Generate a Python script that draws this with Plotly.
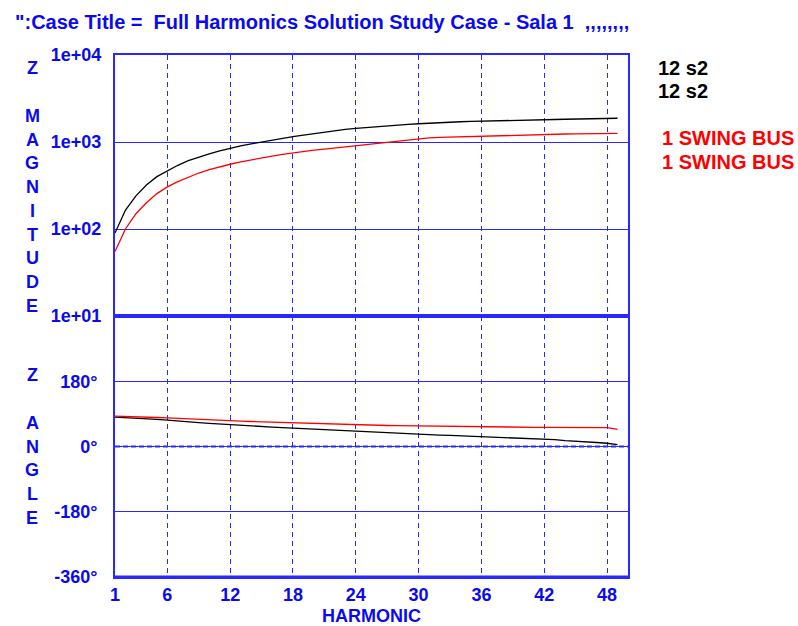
import plotly.graph_objects as go

# Harmonic orders analysed
harmonics = list(range(1, 50))

# Driving-point impedance magnitude (ohm) seen at each bus
mag_12s2 = [90, 165, 240, 320, 400, 470, 540, 610, 670, 730,
            790, 850, 900, 950, 1000, 1050, 1100, 1150, 1200, 1250,
            1300, 1350, 1395, 1435, 1470, 1505, 1540, 1570, 1595, 1620,
            1650, 1675, 1695, 1710, 1725, 1740, 1755, 1765, 1775, 1785,
            1795, 1805, 1815, 1825, 1835, 1845, 1855, 1865, 1875]
mag_swing = [55, 100, 150, 200, 255, 305, 350, 395, 440, 480,
             520, 555, 590, 625, 660, 690, 720, 750, 780, 805,
             830, 855, 880, 910, 945, 975, 1010, 1040, 1070, 1100,
             1115, 1130, 1140, 1150, 1160, 1170, 1180, 1190, 1200, 1205,
             1210, 1220, 1225, 1235, 1240, 1245, 1250, 1255, 1258]

# Impedance angle (degrees)
ang_12s2 = [81, 80, 78, 76, 75, 73, 70, 68, 66, 64,
            62, 60, 58.5, 57, 55, 53.5, 52, 50.5, 49, 47.5,
            46, 44.5, 43, 42, 40.5, 39, 38, 36.5, 35, 34,
            33, 31.5, 30.5, 29.5, 28.5, 27.5, 26.5, 25.5, 24.5, 23.5,
            22.5, 21, 19, 16, 15, 13, 11, 9, 5]
ang_swing = [84, 83.5, 83, 82, 80, 79, 77.5, 76, 74, 73,
             72, 71, 70, 69, 68, 67, 66, 65, 64, 63,
             62, 61, 60.5, 60, 59, 58.5, 58, 57.5, 57, 56.5,
             56, 55.5, 55, 55, 54.5, 54, 54, 53.5, 53.5, 53,
             53, 53, 52.5, 52.5, 52, 52, 52, 52, 47]

bus_names = ["12 s2", "1 SWING BUS"]
bus_colors = ["#000000", "#FF0000"]

x_ticks = [1, 6, 12, 18, 24, 30, 36, 42, 48]
mag_ticks = [10, 100, 1000, 10000]
mag_labels = ["1e+01", "1e+02", "1e+03", "1e+04"]
ang_ticks = [-360, -180, 0, 180]
ang_labels = ["-360°", "-180°", "0°", "180°"]

title_text = "\":Case Title =\u00a0\u00a0Full Harmonics Solution Study Case - Sala 1\u00a0\u00a0,,,,,,,,"

BLUE = "#2828FF"
TXT = "#0A0AF0"
FONT = "Liberation Sans, Arial, sans-serif"

W, H = 798, 626
ML, MR, MT, MB = 115, 170, 55, 49
PW, PH = W - ML - MR, H - MT - MB


def px(x):
    return (x - ML) / PW


def py(y):
    return (H - MB - y) / PH


fig = go.Figure()

mags = [mag_12s2, mag_swing]
angs = [ang_12s2, ang_swing]
for name, color, m, a in zip(bus_names, bus_colors, mags, angs):
    fig.add_trace(go.Scatter(x=harmonics, y=m, mode="lines", name=name,
                             line=dict(color=color, width=1.3),
                             xaxis="x2", yaxis="y", showlegend=False))
    fig.add_trace(go.Scatter(x=harmonics, y=a, mode="lines", name=name,
                             line=dict(color=color, width=1.3),
                             xaxis="x", yaxis="y2", showlegend=False))

tick_font = dict(family=FONT, size=18, color=TXT)
xcommon = dict(range=[1, 50], tickvals=x_ticks, showgrid=True,
               gridcolor=BLUE, gridwidth=1, griddash="5px,4px",
               showline=True, linecolor=BLUE, linewidth=2, mirror=True,
               zeroline=False, ticks="", automargin=False)

fig.update_layout(
    width=W, height=H,
    margin=dict(l=ML, r=MR, t=MT, b=MB, pad=0),
    paper_bgcolor="white", plot_bgcolor="white",
    showlegend=False,
    xaxis=dict(**xcommon, domain=[0, 1], anchor="y2",
               ticktext=[f"<b>{v}</b>" for v in x_ticks],
               tickfont=tick_font, ticklabelstandoff=0,
               title=dict(text="<b>HARMONIC</b>",
                          font=dict(family=FONT, size=18, color=TXT),
                          standoff=6)),
    xaxis2=dict(**xcommon, domain=[0, 1], anchor="y", matches="x",
                showticklabels=False),
    yaxis=dict(type="log", range=[1, 4], domain=[0.5, 1], anchor="x2",
               tickvals=mag_ticks, ticktext=[f"<b>{t}</b>" for t in mag_labels],
               tickfont=tick_font, ticks="", ticklabelstandoff=8,
               showgrid=True, gridcolor=BLUE, gridwidth=1,
               showline=True, linecolor=BLUE, linewidth=2, mirror=True,
               zeroline=False, automargin=False),
    yaxis2=dict(range=[-360, 360], domain=[0, 0.5], anchor="x",
                tickvals=ang_ticks, ticktext=[f"<b>{t}</b>" for t in ang_labels],
                tickfont=tick_font, ticks="", ticklabelstandoff=12,
                showgrid=True, gridcolor=BLUE, gridwidth=1,
                showline=True, linecolor=BLUE, linewidth=2, mirror=True,
                zeroline=False, automargin=False),
)

# Heavy separator at the bottom of the magnitude scale and along the angle floor
fig.add_shape(type="line", xref="x domain", yref="y", x0=0, x1=1,
              y0=mag_ticks[0], y1=mag_ticks[0], line=dict(color=BLUE, width=3))
fig.add_shape(type="line", xref="x domain", yref="y2", x0=0, x1=1,
              y0=ang_ticks[0], y1=ang_ticks[0], line=dict(color=BLUE, width=3))
# Dashed zero-degree reference
fig.add_shape(type="line", xref="x domain", yref="y2", x0=0, x1=1,
              y0=0, y1=0, line=dict(color=BLUE, width=2, dash="5px,3px"))

annotations = [
    dict(text=f"<b>{title_text}</b>", x=px(13), y=py(22), xanchor="left",
         yanchor="middle", font=dict(family=FONT, size=20, color=TXT)),
]

# Vertical axis captions, one letter per row
def vertical_caption(word, x, y0, step):
    return [dict(text=f"<b>{ch}</b>", x=px(x), y=py(y0 + i * step),
                 xanchor="center", yanchor="middle",
                 font=dict(family=FONT, size=18, color=TXT))
            for i, ch in enumerate(word)]

annotations += vertical_caption("Z", 32, 68, 0)
annotations += vertical_caption("MAGNITUDE", 32, 116, 23.7)
annotations += vertical_caption("Z", 32, 375, 0)
annotations += vertical_caption("ANGLE", 32, 423, 23.7)

# Bus legend (magnitude and angle entries for each bus)
legend_rows = [(bus_names[0], bus_colors[0], 656, 68),
               (bus_names[0], bus_colors[0], 656, 91),
               (bus_names[1], bus_colors[1], 660, 138),
               (bus_names[1], bus_colors[1], 660, 162)]
for name, color, x, y in legend_rows:
    annotations.append(dict(text=f"<b>{name}</b>", x=px(x), y=py(y),
                            xanchor="left", yanchor="middle",
                            font=dict(family=FONT, size=20, color=color)))

for a in annotations:
    a.update(xref="paper", yref="paper", showarrow=False)
fig.update_layout(annotations=annotations)

fig.write_html("out.html")
